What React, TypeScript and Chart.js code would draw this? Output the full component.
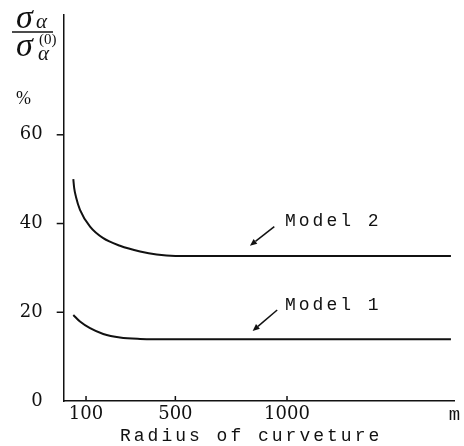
import React, { useEffect, useRef } from 'react';
import { Chart, registerables } from 'chart.js';

Chart.register(...registerables);

// ---- data ----
const model2X = [43, 47, 55, 73, 118, 177, 252, 342, 416, 500, 1000, 1734];
const model2Y = [50.0, 48.0, 46.0, 43.1, 39.3, 36.7, 35.0, 33.7, 33.0, 32.7, 32.7, 32.7];
const model1X = [43, 73, 118, 177, 252, 342, 500, 1000, 1734];
const model1Y = [19.4, 17.9, 16.4, 15.1, 14.3, 14.0, 13.9, 13.9, 13.9];
const xTicks = [100, 500, 1000];
const xUnitValue = 1750;
const xUnitLabel = 'm';
const yTicks = [0, 20, 40, 60];
const xMax = 1750;
const yMax = 87;
const seriesNames = ['Model 1', 'Model 2'];
const xTitle = 'Radius of curveture';
// annotation anchors (data coordinates)
const labelX = [991, 991];
const labelY = [20.5, 39.5];
const arrowFromX = [956, 943];
const arrowFromY = [20.5, 39.3];
const arrowToX = [846, 834];
const arrowToY = [15.8, 35.0];

const toPts = (xs: number[], ys: number[]) => xs.map((x, i) => ({ x, y: ys[i] }));

const decorPlugin = {
  id: 'decor',
  afterDraw(chart: any) {
    const ctx = chart.ctx as CanvasRenderingContext2D;
    const xs = chart.scales.x;
    const ys = chart.scales.y;
    const area = chart.chartArea;
    ctx.save();
    ctx.strokeStyle = '#111';
    ctx.fillStyle = '#111';
    ctx.lineWidth = 1.5;
    // tick marks
    xTicks.forEach((v) => {
      const px = xs.getPixelForValue(v);
      ctx.beginPath();
      ctx.moveTo(px, area.bottom);
      ctx.lineTo(px, area.bottom - 5);
      ctx.stroke();
    });
    yTicks.forEach((v) => {
      if (v === 0) return;
      const py = ys.getPixelForValue(v);
      ctx.beginPath();
      ctx.moveTo(area.left, py);
      ctx.lineTo(area.left - 7, py);
      ctx.stroke();
    });
    // series labels + arrows
    ctx.font = '18px "Liberation Mono"';
    (ctx as any).letterSpacing = '3px';
    ctx.textAlign = 'left';
    ctx.textBaseline = 'alphabetic';
    seriesNames.forEach((name, i) => {
      ctx.fillText(name, xs.getPixelForValue(labelX[i]), ys.getPixelForValue(labelY[i]));
      const x1 = xs.getPixelForValue(arrowFromX[i]);
      const y1 = ys.getPixelForValue(arrowFromY[i]);
      const x2 = xs.getPixelForValue(arrowToX[i]);
      const y2 = ys.getPixelForValue(arrowToY[i]);
      const ang = Math.atan2(y2 - y1, x2 - x1);
      const hl = 7;
      const hw = 3;
      const bx = x2 - hl * Math.cos(ang);
      const by = y2 - hl * Math.sin(ang);
      ctx.beginPath();
      ctx.moveTo(x1, y1);
      ctx.lineTo(bx, by);
      ctx.stroke();
      ctx.beginPath();
      ctx.moveTo(x2, y2);
      ctx.lineTo(bx + hw * Math.sin(ang), by - hw * Math.cos(ang));
      ctx.lineTo(bx - hw * Math.sin(ang), by + hw * Math.cos(ang));
      ctx.closePath();
      ctx.fill();
    });
    // x title
    ctx.textAlign = 'left';
    ctx.fillText(xTitle, 120, 441);
    (ctx as any).letterSpacing = '0px';
    // y title (fraction)
    ctx.font = 'italic 34px "Liberation Serif"';
    ctx.fillText('σ', 16, 28);
    ctx.fillText('σ', 16, 56);
    ctx.font = 'italic 21px "Liberation Serif"';
    ctx.fillText('α', 36, 28);
    ctx.fillText('α', 38, 60);
    ctx.font = '15px "Liberation Serif"';
    ctx.fillText('(0)', 39, 44);
    ctx.lineWidth = 1.5;
    ctx.beginPath();
    ctx.moveTo(12, 32);
    ctx.lineTo(53, 32);
    ctx.stroke();
    ctx.font = '18px "Liberation Serif"';
    ctx.fillText('%', 16, 104);
    ctx.restore();
  },
};

export default function App() {
  const ref = useRef<HTMLCanvasElement | null>(null);
  useEffect(() => {
    if (!ref.current) return;
    const chart = new Chart(ref.current, {
      type: 'line',
      data: {
        datasets: [
          {
            label: seriesNames[1],
            data: toPts(model2X, model2Y),
            borderColor: '#111',
            borderWidth: 2,
            pointRadius: 0,
            cubicInterpolationMode: 'monotone',
            fill: false,
          },
          {
            label: seriesNames[0],
            data: toPts(model1X, model1Y),
            borderColor: '#111',
            borderWidth: 2,
            pointRadius: 0,
            cubicInterpolationMode: 'monotone',
            fill: false,
          },
        ],
      },
      options: {
        animation: false,
        responsive: false,
        layout: { padding: { top: 15, right: 9.5, left: 0, bottom: 0 } },
        plugins: { legend: { display: false }, tooltip: { enabled: false } },
        scales: {
          x: {
            type: 'linear',
            min: 0,
            max: xMax,
            grid: { display: false, drawTicks: false },
            border: { display: true, color: '#111', width: 1.5 },
            afterBuildTicks: (s: any) => {
              s.ticks = [...xTicks, xUnitValue].map((v) => ({ value: v }));
            },
            afterFit: (s: any) => {
              s.height = 45;
              s.paddingLeft = 0;
              s.paddingRight = 0;
              s.paddingTop = 0;
              s.paddingBottom = 0;
            },
            ticks: {
              padding: 3,
              maxRotation: 0,
              autoSkip: false,
              color: '#111',
              font: (c: any) =>
                c.tick && c.tick.value === xUnitValue
                  ? { family: '"Liberation Mono"', size: 19 }
                  : { family: '"DejaVu Serif"', size: 18 },
              callback: (v: any) => (v === xUnitValue ? xUnitLabel : String(v)),
            },
          },
          y: {
            type: 'linear',
            min: 0,
            max: yMax,
            grid: { display: false, drawTicks: false },
            border: { display: true, color: '#111', width: 1.5 },
            afterBuildTicks: (s: any) => {
              s.ticks = yTicks.map((v) => ({ value: v }));
            },
            afterFit: (s: any) => {
              s.width = 63.7;
              s.paddingLeft = 0;
              s.paddingRight = 0;
              s.paddingTop = 0;
              s.paddingBottom = 0;
            },
            ticks: {
              padding: 21,
              color: '#111',
              font: { family: '"DejaVu Serif"', size: 18 },
              callback: (v: any) => String(v),
            },
          },
        },
      },
      plugins: [decorPlugin],
    } as any);
    return () => chart.destroy();
  }, []);
  return (
    <div style={{ position: 'absolute', left: 0, top: 0 }}>
      <canvas ref={ref} width={464} height={446} style={{ width: 464, height: 446 }} />
    </div>
  );
}
